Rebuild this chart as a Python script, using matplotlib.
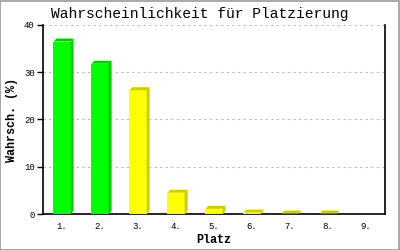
import matplotlib
matplotlib.use("Agg")
import matplotlib.pyplot as plt
from matplotlib.patches import Polygon, Rectangle

categories = ["1.", "2.", "3.", "4.", "5.", "6.", "7.", "8.", "9."]
values = [36.5, 31.8, 26.2, 4.5, 1.1, 0.3, 0.1, 0.1, 0.0]
face_colors = ["#00ff00", "#00ff00", "#ffff00", "#ffff00", "#ffff00", "#ffff00", "#ffff00", "#ffff00", "#ffff00"]
side_colors = ["#00cc00", "#00cc00", "#cccc00", "#cccc00", "#cccc00", "#cccc00", "#cccc00", "#cccc00", "#cccc00"]
yticks = [0, 10, 20, 30, 40]

mono = ["Liberation Mono", "DejaVu Sans Mono"]

fig = plt.figure(figsize=(4, 2.5), dpi=100)
fig.patch.set_facecolor("white")
fig.add_artist(Rectangle((0.001, 0.002), 0.997, 0.995, transform=fig.transFigure,
                         fill=False, edgecolor="#999999", linewidth=1.2))
ax = fig.add_axes([0.1075, 0.144, 0.855, 0.756])

n = len(categories)
xs = list(range(n))
width = 0.45
dx = 0.08
dy = 0.63
for x, v, fc, sc in zip(xs, values, face_colors, side_colors):
    if v <= 0:
        continue
    x0, x1 = x - width / 2, x + width / 2
    ax.add_patch(Rectangle((x0, 0), width, v, facecolor=fc, edgecolor="none", zorder=3))
    ax.add_patch(Polygon([(x1, 0), (x1 + dx, dy), (x1 + dx, v + dy), (x1, v)],
                         closed=True, facecolor=sc, edgecolor="none", zorder=3))
    ax.add_patch(Polygon([(x0, v), (x0 + dx, v + dy), (x1 + dx, v + dy), (x1, v)],
                         closed=True, facecolor=sc, edgecolor="none", zorder=3))

ax.set_xlim(-0.5, n - 0.5)
ax.set_ylim(0, 40)
ax.set_yticks(yticks)
ax.set_yticklabels([str(t) for t in yticks], family=mono, fontsize=6.5)
ax.set_xticks(xs)
ax.set_xticklabels(categories, family=mono, fontsize=6.5)
ax.tick_params(axis="x", length=0, pad=6)
ax.tick_params(axis="y", length=4, width=1, direction="out", pad=2)
ax.yaxis.grid(True, linestyle=(0, (2, 3)), color="#bbbbbb", linewidth=0.8)
ax.set_axisbelow(True)
for s in ["left", "bottom", "right"]:
    ax.spines[s].set_color("black")
    ax.spines[s].set_linewidth(1.2)
ax.spines["top"].set_visible(False)

ax.set_xlabel("Platz", family=mono, fontsize=8.5, fontweight="bold", labelpad=2)
ax.set_ylabel("Wahrsch. (%)", family=mono, fontsize=8.5, fontweight="bold", labelpad=4)
fig.text(0.5, 0.945, "Wahrscheinlichkeit für Platzierung", family=mono,
         fontsize=10.5, ha="center", va="center")

fig.savefig("out.png", dpi=100, facecolor="white")
